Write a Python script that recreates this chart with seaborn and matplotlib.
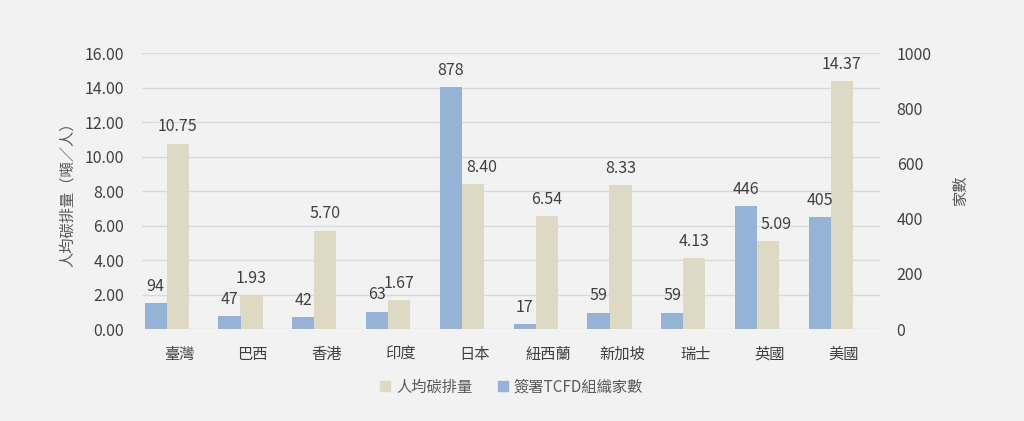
import numpy as np
import pandas as pd
import matplotlib
matplotlib.use("Agg")
import matplotlib.pyplot as plt
import seaborn as sns
from matplotlib.lines import Line2D

# ---- data ----
categories = ["臺灣", "巴西", "香港", "印度", "日本", "紐西蘭", "新加坡", "瑞士", "英國", "美國"]
per_capita = [10.75, 1.93, 5.70, 1.67, 8.40, 6.54, 8.33, 4.13, 5.09, 14.37]
tcfd_count = [94, 47, 42, 63, 878, 17, 59, 59, 446, 405]
left_ticks = [0, 2, 4, 6, 8, 10, 12, 14, 16]
right_ticks = [0, 200, 400, 600, 800, 1000]
series_names = ["人均碳排量", "簽署TCFD組織家數"]
left_label = "人均碳排量（噸／人）"
right_label = "家數"

# ---- style ----
BG = "#f2f2f2"
BEIGE = "#ddd9c3"
BLUE = "#95b3d7"
GRID = "#d9d9d9"
TICK_C = "#404040"
LABEL_C = "#595959"
FW = "light"

sns.set_theme(style="white")
plt.rcParams["font.family"] = ["Noto Sans CJK TC", "DejaVu Sans"]
plt.rcParams["font.weight"] = FW

fig = plt.figure(figsize=(10.24, 4.21), dpi=100, facecolor=BG)
ax = fig.add_axes([0.1387, 0.2185, 0.7207, 0.6549])
ax.set_facecolor(BG)
ax2 = ax.twinx()
ax2.patch.set_visible(False)

pos = np.arange(len(categories))
df = pd.DataFrame({
    "beige_x": pos - 0.016,
    "blue_x": pos - 0.315,
    "per_capita": per_capita,
    "tcfd": tcfd_count,
})

sns.barplot(data=df, x="beige_x", y="per_capita", native_scale=True, width=0.3,
            color=BEIGE, saturation=1, errorbar=None, ax=ax, zorder=2)
sns.barplot(data=df, x="blue_x", y="tcfd", native_scale=True, width=0.3,
            color=BLUE, saturation=1, errorbar=None, ax=ax2, zorder=2)

for p in ax.patches + ax2.patches:
    p.set_edgecolor("none")

beige_texts = ax.bar_label(ax.containers[0], labels=[f"{v:.2f}" for v in per_capita],
                           padding=6, fontsize=11.5, color=TICK_C, fontweight=FW)
ax2.bar_label(ax2.containers[0], labels=[str(v) for v in tcfd_count],
              padding=6, fontsize=11.5, color=TICK_C, fontweight=FW)
# labels nudged right where they would touch the neighbouring blue bar
for i in (4, 8):
    beige_texts[i].xyann = (6, beige_texts[i].xyann[1])

ax.set_xlim(-0.5, 9.5)
ax2.set_xlim(-0.5, 9.5)
ax.set_ylim(0, 16)
ax2.set_ylim(0, 1000)

ax.set_yticks(left_ticks)
ax.set_yticklabels([f"{t:.2f}" for t in left_ticks])
ax2.set_yticks(right_ticks)
ax2.set_yticklabels([str(t) for t in right_ticks])
ax.set_xticks(pos)
ax.set_xticklabels(categories)

ax.tick_params(axis="y", length=0, pad=13, labelsize=11.5, labelcolor=TICK_C)
ax2.tick_params(axis="y", length=0, pad=12, labelsize=11.5, labelcolor=TICK_C)
ax.tick_params(axis="x", length=0, pad=12, labelsize=11, labelcolor=TICK_C)
ax2.tick_params(axis="x", length=0, labelbottom=False)

ax.yaxis.grid(True, color=GRID, linewidth=1)
ax.set_axisbelow(True)
ax2.grid(False)
for a in (ax, ax2):
    for s in a.spines.values():
        s.set_visible(False)

ax.set_xlabel("")
ax.set_ylabel(left_label, fontsize=11, color=LABEL_C)
ax.yaxis.set_label_coords(-0.090, 0.5)
ax2.set_ylabel(right_label, fontsize=11, color=LABEL_C, rotation=90)
ax2.yaxis.set_label_coords(1.098, 0.5)

handles = [
    Line2D([], [], marker="s", linestyle="none", markersize=7, color=BEIGE),
    Line2D([], [], marker="s", linestyle="none", markersize=7, color=BLUE),
]
leg = fig.legend(handles, series_names, loc="center", bbox_to_anchor=(0.499, 0.081),
                 ncol=2, frameon=False, fontsize=11, handlelength=0.8,
                 handletextpad=0.3, columnspacing=1.6, labelcolor=LABEL_C)

fig.savefig("out.png", dpi=100, facecolor=BG)
